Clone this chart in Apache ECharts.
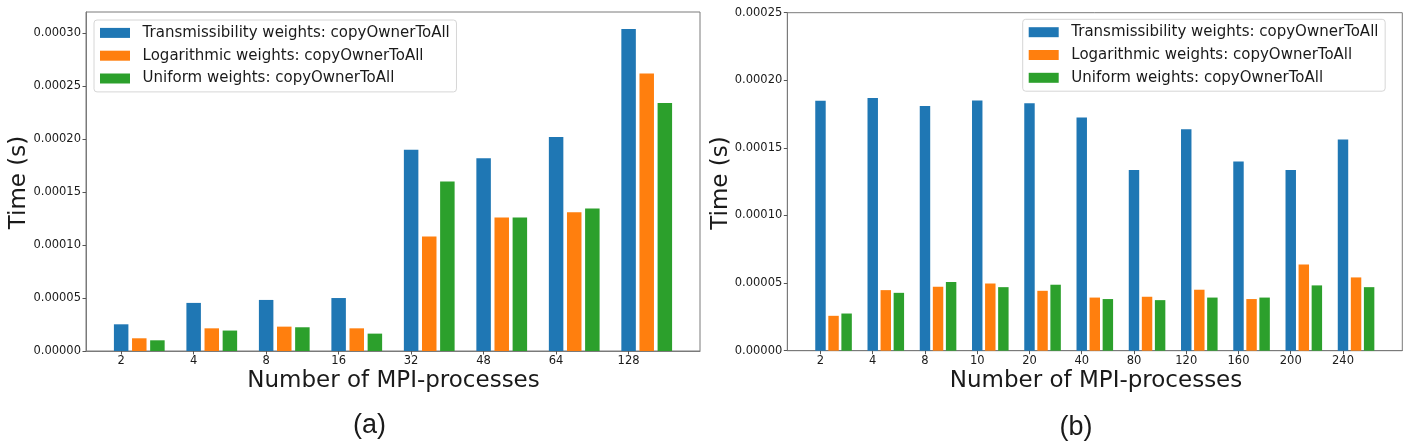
<!DOCTYPE html>
<html>
<head>
<meta charset="utf-8">
<script src="https://cdn.jsdelivr.net/npm/echarts@6/dist/echarts.min.js"></script>
<style>
html,body{margin:0;padding:0;background:#fff;}
#c{width:1411px;height:446px;}
</style>
</head>
<body>
<div id="c"></div>
<script>
// ---- data: chart (a) ----
const catsA = ['2','4','8','16','32','48','64','128'];
const transA = [0.0000252, 0.0000454, 0.0000482, 0.0000500, 0.000190, 0.000182, 0.000202, 0.000304];
const logA   = [0.0000120, 0.0000214, 0.0000230, 0.0000214, 0.000108, 0.000126, 0.000131, 0.000262];
const uniA   = [0.0000101, 0.0000193, 0.0000224, 0.0000164, 0.000160, 0.000126, 0.0001346, 0.000234];
const yTicksA = [0, 0.00005, 0.0001, 0.00015, 0.0002, 0.00025, 0.0003];

// ---- data: chart (b) ----
const catsB = ['2','4','8','10','20','40','80','120','160','200','240'];
const transB = [0.0001849, 0.000187, 0.000181, 0.000185, 0.000183, 0.0001725, 0.0001336, 0.0001638, 0.000140, 0.0001336, 0.0001562];
const logB   = [0.0000258, 0.0000448, 0.0000473, 0.0000497, 0.0000443, 0.0000393, 0.0000399, 0.0000451, 0.0000382, 0.0000638, 0.0000542];
const uniB   = [0.0000275, 0.0000428, 0.0000508, 0.0000470, 0.0000488, 0.0000382, 0.0000374, 0.0000393, 0.0000393, 0.0000483, 0.0000470];
const yTicksB = [0, 0.00005, 0.0001, 0.00015, 0.0002, 0.00025];

const seriesNames = ['Transmissibility weights: copyOwnerToAll', 'Logarithmic weights: copyOwnerToAll', 'Uniform weights: copyOwnerToAll'];
const colors = ['#1f77b4', '#ff7f0e', '#2ca02c'];

const FONT = 'DejaVu Sans';
const TXT = '#1a1a1a';
const FRAME = '#7a7a7a';

const charts = [
  {cats: catsA, vals: [transA, logA, uniA], yTicks: yTicksA, ymax: 0.00032,
   grid: {left: 86, top: 12, width: 614, height: 339},
   legend: {left: 94, top: 20}},
  {cats: catsB, vals: [transB, logB, uniB], yTicks: yTicksB, ymax: 0.00025,
   grid: {left: 787.3, top: 12.7, width: 615, height: 338},
   legend: {left: 1022.7, top: 19.3}}
];

const grids = [], xAxes = [], yAxes = [], series = [], legends = [];
const OFF = 0.25, BW = 0.2;
charts.forEach((c, g) => {
  const n = c.cats.length;
  // matplotlib-like limits: data span from -BW/2 to (n-1)+2*OFF+BW/2 with 5% margins
  const lo = -BW / 2, hi = (n - 1) + 2 * OFF + BW / 2;
  const m = 0.05 * (hi - lo);
  const xmin = lo - m, xmax = hi + m;
  const pxPerUnit = c.grid.width / (xmax - xmin);
  const idx = c.cats.map((_, i) => i);
  grids.push(Object.assign({show: true, borderColor: FRAME, borderWidth: 1, containLabel: false}, c.grid));
  for (let k = 0; k < 3; k++) {
    const visible = k === 0;
    xAxes.push({
      type: 'value', gridIndex: g, position: 'bottom', min: xmin, max: xmax,
      show: visible,
      axisLine: {show: true, onZero: false, lineStyle: {color: FRAME, width: 1}},
      axisTick: {show: true, customValues: idx, length: 3.5, lineStyle: {color: '#555'}},
      axisLabel: {show: true, customValues: idx, formatter: v => c.cats[Math.round(v)],
                  fontFamily: FONT, fontSize: 11.5, color: TXT, margin: 4},
      splitLine: {show: false}
    });
    series.push({
      type: 'bar', name: seriesNames[k], xAxisIndex: g * 3 + k, yAxisIndex: g,
      barWidth: BW * pxPerUnit,
      itemStyle: {color: colors[k]},
      data: c.vals[k].map((v, i) => [i + k * OFF, v])
    });
  }
  yAxes.push({
    type: 'value', gridIndex: g, position: 'left', min: 0, max: c.ymax,
    axisLine: {show: true, onZero: false, lineStyle: {color: FRAME, width: 1}},
    axisTick: {show: true, customValues: c.yTicks, length: 3.5, lineStyle: {color: '#555'}},
    axisLabel: {customValues: c.yTicks, formatter: v => v.toFixed(5),
                fontFamily: FONT, fontSize: 11.5, color: TXT, margin: 5},
    splitLine: {show: false}
  });
  legends.push({
    orient: 'vertical', left: c.legend.left, top: c.legend.top,
    data: seriesNames, icon: 'rect', itemWidth: 30, itemHeight: 10, itemGap: 0,
    padding: [1.5, 6.7, 2, 6],
    backgroundColor: 'rgba(255,255,255,0.8)', borderColor: '#d6d6d6', borderWidth: 1, borderRadius: 3,
    textStyle: {fontFamily: FONT, fontSize: 15, color: TXT, lineHeight: 22.8, padding: [0, 0, 0, 7.6]},
    selectedMode: false
  });
});

function txt(text, x, y, size, rot, family) {
  return {type: 'text', x: x, y: y, rotation: rot || 0,
    style: {text: text, font: size + 'px "' + (family || FONT) + '"', fill: TXT,
            align: 'center', verticalAlign: 'middle', textAlign: 'center', textVerticalAlign: 'middle'}};
}

const option = {
  animation: false,
  backgroundColor: '#fff',
  grid: grids, xAxis: xAxes, yAxis: yAxes, series: series, legend: legends,
  graphic: [
    txt('Time (s)', 19, 182.5, 23, Math.PI / 2),
    txt('Time (s)', 721, 183, 23, Math.PI / 2),
    txt('Number of MPI-processes', 393.5, 381, 23),
    txt('Number of MPI-processes', 1096, 381, 23),
    txt('(a)', 369.5, 426, 27, 0, 'Liberation Sans'),
    txt('(b)', 1076, 428, 27, 0, 'Liberation Sans')
  ]
};

const chart = echarts.init(document.getElementById('c'), null, {renderer: 'canvas'});
chart.setOption(option);
</script>
</body>
</html>
